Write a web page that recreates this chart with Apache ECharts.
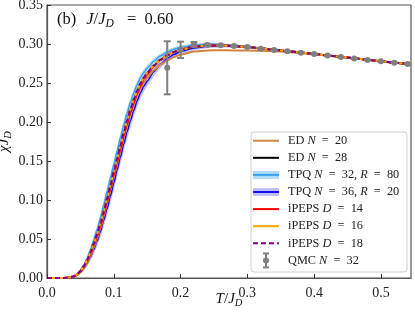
<!DOCTYPE html>
<html><head><meta charset="utf-8">
<script src="https://cdn.jsdelivr.net/npm/echarts@6/dist/echarts.min.js"></script>
<style>html,body{margin:0;padding:0;background:#fff}#c{width:415px;height:315px}</style>
</head><body><div id="c"></div>
<script>
// ---- data ----
const T = [0, 0.02, 0.03, 0.04, 0.045, 0.05, 0.055, 0.06, 0.065, 0.07, 0.075, 0.08, 0.085, 0.09, 0.095, 0.10, 0.105, 0.11, 0.115, 0.12, 0.125, 0.13, 0.135, 0.14, 0.145, 0.15, 0.16, 0.17, 0.18, 0.19, 0.20, 0.22, 0.24, 0.26, 0.28, 0.30, 0.32, 0.34, 0.36, 0.38, 0.40, 0.42, 0.44, 0.46, 0.48, 0.50, 0.52, 0.545];
const ed20 = [0, 0, 0.0002, 0.0015, 0.0035, 0.007, 0.0123, 0.0193, 0.0284, 0.039, 0.0507, 0.064, 0.0794, 0.0958, 0.1128, 0.1298, 0.1468, 0.1638, 0.1804, 0.196, 0.2102, 0.2228, 0.234, 0.2436, 0.251, 0.257, 0.2665, 0.2738, 0.279, 0.2832, 0.2863, 0.2905, 0.2918, 0.292, 0.2918, 0.2916, 0.2912, 0.2908, 0.2897, 0.2882, 0.2866, 0.2849, 0.2831, 0.2813, 0.2795, 0.2777, 0.2759, 0.2736];
const ed28 = [0, 0, 0.0003, 0.0019, 0.0044, 0.0087, 0.0148, 0.0226, 0.0324, 0.0438, 0.0562, 0.070, 0.0854, 0.1018, 0.1188, 0.1358, 0.1528, 0.1698, 0.1864, 0.202, 0.2162, 0.2288, 0.240, 0.2496, 0.257, 0.263, 0.2725, 0.2798, 0.2855, 0.2897, 0.2928, 0.2965, 0.298, 0.2982, 0.2975, 0.2962, 0.2945, 0.2927, 0.2909, 0.2891, 0.2873, 0.2854, 0.2835, 0.2816, 0.2797, 0.2778, 0.2760, 0.2737];
const tpq32 = [0, 0, 0.0004, 0.0023, 0.0052, 0.0099, 0.0166, 0.0251, 0.036, 0.0488, 0.0622, 0.077, 0.0939, 0.1108, 0.1283, 0.1455, 0.1628, 0.1798, 0.1964, 0.2117, 0.2252, 0.2373, 0.248, 0.2568, 0.2636, 0.269, 0.278, 0.2848, 0.2895, 0.2932, 0.2958, 0.2987, 0.2997, 0.2994, 0.2983, 0.2967, 0.2948, 0.2927, 0.2909, 0.2891, 0.2873, 0.2854, 0.2835, 0.2816, 0.2797, 0.2778, 0.2760, 0.2737];
const tpq32err = [0, 0, 0.0002, 0.0006, 0.001, 0.0015, 0.002, 0.003, 0.004, 0.0045, 0.005, 0.0055, 0.006, 0.006, 0.006, 0.006, 0.006, 0.006, 0.006, 0.006, 0.0055, 0.005, 0.005, 0.0045, 0.004, 0.004, 0.0035, 0.003, 0.003, 0.0025, 0.0025, 0.002, 0.002, 0.0015, 0.0015, 0.001, 0.001, 0.0008, 0.0006, 0.0005, 0.0005, 0.0004, 0.0004, 0.0003, 0.0003, 0.0003, 0.0003, 0.0003];
const tpq36 = [0, 0, 0.0003, 0.0017, 0.0039, 0.0075, 0.0124, 0.0186, 0.0268, 0.0366, 0.0474, 0.0596, 0.0742, 0.089, 0.1052, 0.1214, 0.1384, 0.1554, 0.172, 0.1876, 0.2018, 0.2152, 0.2272, 0.2376, 0.2458, 0.2526, 0.2645, 0.2742, 0.2815, 0.2865, 0.2904, 0.2949, 0.297, 0.2975, 0.2971, 0.296, 0.2945, 0.2927, 0.2909, 0.2891, 0.2873, 0.2854, 0.2835, 0.2816, 0.2797, 0.2778, 0.2760, 0.2737];
const tpq36err = [0, 0, 0.0002, 0.0006, 0.001, 0.002, 0.003, 0.004, 0.005, 0.006, 0.007, 0.008, 0.008, 0.009, 0.009, 0.009, 0.009, 0.009, 0.009, 0.009, 0.0085, 0.008, 0.008, 0.0075, 0.007, 0.0065, 0.006, 0.005, 0.0045, 0.004, 0.0035, 0.003, 0.0025, 0.002, 0.002, 0.0015, 0.0012, 0.001, 0.0008, 0.0006, 0.0005, 0.0005, 0.0004, 0.0004, 0.0004, 0.0003, 0.0003, 0.0003];
const peps14 = [0, 0, 0.0003, 0.0018, 0.0042, 0.0083, 0.0141, 0.0216, 0.0309, 0.0418, 0.0537, 0.067, 0.0824, 0.0978, 0.1148, 0.1318, 0.1488, 0.1658, 0.1824, 0.198, 0.2122, 0.2248, 0.237, 0.2466, 0.255, 0.261, 0.2715, 0.2798, 0.2855, 0.2897, 0.2928, 0.2965, 0.298, 0.2982, 0.2975, 0.2962, 0.2945, 0.2927, 0.2909, 0.2891, 0.2873, 0.2854, 0.2835, 0.2816, 0.2797, 0.2778, 0.2760, 0.2737];
const peps16 = [0, 0, 0.0003, 0.0019, 0.0044, 0.0087, 0.0148, 0.0226, 0.0324, 0.0438, 0.0562, 0.070, 0.0854, 0.1018, 0.1188, 0.1358, 0.1528, 0.1698, 0.1864, 0.202, 0.2162, 0.2288, 0.240, 0.2496, 0.257, 0.263, 0.2725, 0.2798, 0.2855, 0.2897, 0.2928, 0.2965, 0.298, 0.2982, 0.2975, 0.2962, 0.2945, 0.2927, 0.2909, 0.2891, 0.2873, 0.2854, 0.2835, 0.2816, 0.2797, 0.2778, 0.2760, 0.2737];
const peps18 = [0, 0, 0.0003, 0.0019, 0.0044, 0.0087, 0.0148, 0.0226, 0.0324, 0.0438, 0.0562, 0.070, 0.0854, 0.1018, 0.1188, 0.1358, 0.1528, 0.1698, 0.1864, 0.202, 0.2162, 0.2288, 0.240, 0.2496, 0.257, 0.263, 0.2725, 0.2798, 0.2855, 0.2897, 0.2928, 0.2965, 0.298, 0.2982, 0.2975, 0.2962, 0.2945, 0.2927, 0.2909, 0.2891, 0.2873, 0.2854, 0.2835, 0.2816, 0.2797, 0.2778, 0.2760, 0.2737];
const qmcT = [0.18, 0.20, 0.22, 0.24, 0.26, 0.28, 0.30, 0.32, 0.34, 0.36, 0.38, 0.40, 0.42, 0.44, 0.46, 0.48, 0.50, 0.52, 0.54];
const qmcChi = [0.2695, 0.2925, 0.2996, 0.2987, 0.2983, 0.2974, 0.2962, 0.2938, 0.2923, 0.2906, 0.2889, 0.2872, 0.2852, 0.2833, 0.2813, 0.2795, 0.2778, 0.2760, 0.2744];
const qmcErr = [0.034, 0.0105, 0.003, 0.0015, 0.001, 0.001, 0.0008, 0.0008, 0.0006, 0.0006, 0.0005, 0.0005, 0.0005, 0.0004, 0.0004, 0.0004, 0.0004, 0.0004, 0.0004];
const xTicks = [0.0, 0.1, 0.2, 0.3, 0.4, 0.5];
const yTicks = [0.00, 0.05, 0.10, 0.15, 0.20, 0.25, 0.30, 0.35];
const EQ = '\u2002=\u2002';
const legendLabels = [
  '{r|ED }{i|N}{r|' + EQ + '20}',
  '{r|ED }{i|N}{r|' + EQ + '28}',
  '{r|TPQ }{i|N}{r|' + EQ + '32, }{i|R}{r|' + EQ + '80}',
  '{r|TPQ }{i|N}{r|' + EQ + '36, }{i|R}{r|' + EQ + '20}',
  '{r|iPEPS }{i|D}{r|' + EQ + '14}',
  '{r|iPEPS }{i|D}{r|' + EQ + '16}',
  '{r|iPEPS }{i|D}{r|' + EQ + '18}',
  '{r|QMC }{i|N}{r|' + EQ + '32}'
];
const titleText = '{r|(b)}{j|J}{r|/}{i|J}{s|D}{r|' + EQ + '0.60}';

// ---- styling ----
const SERIF = '"Liberation Serif", "DejaVu Serif", serif';
const C = {
  ed20: '#d2843f', ed28: '#000000', tpq32: '#3aa0f5', tpq32band: 'rgba(110,190,255,0.55)',
  tpq36: '#1010f0', tpq36band: 'rgba(90,90,255,0.38)', p14: '#ff0000', p16: '#ffa500', p18: '#800080', qmc: '#808080'
};
const pairs = (ys) => T.map((t, i) => [t, ys[i]]);

function band(lo, hi, color, z) {
  return {
    type: 'custom', z: z, silent: true, clip: true,
    data: [[0, 0]], encode: {x: 0, y: 1},
    renderItem: function (params, api) {
      const pts = [];
      for (let i = 0; i < T.length; i++) pts.push(api.coord([T[i], hi[i]]));
      for (let i = T.length - 1; i >= 0; i--) pts.push(api.coord([T[i], lo[i]]));
      return {type: 'polygon', shape: {points: pts}, style: {fill: color}};
    }
  };
}
function line(ys, color, width, z, dash) {
  return {
    type: 'line', data: pairs(ys), showSymbol: false, symbol: 'none', z: z, clip: true,
    smooth: 0.25, smoothMonotone: 'x', silent: true,
    lineStyle: {color: color, width: width, type: dash || 'solid'}
  };
}
const lo32 = tpq32.map((v, i) => v - tpq32err[i]), hi32 = tpq32.map((v, i) => v + tpq32err[i]);
const lo36 = tpq36.map((v, i) => v - tpq36err[i]), hi36 = tpq36.map((v, i) => v + tpq36err[i]);

const qmcData = qmcT.map((t, i) => [t, qmcChi[i], qmcErr[i]]);
const qmcSeries = {
  type: 'custom', z: 20, silent: true, clip: false,
  data: qmcData, encode: {x: 0, y: 1},
  renderItem: function (params, api) {
    const t = api.value(0), c = api.value(1), e = api.value(2);
    const p = api.coord([t, c]), a = api.coord([t, c + e]), b = api.coord([t, c - e]);
    const st = {stroke: C.qmc, lineWidth: 2};
    return {type: 'group', children: [
      {type: 'line', shape: {x1: p[0], y1: a[1], x2: p[0], y2: b[1]}, style: st},
      {type: 'line', shape: {x1: p[0] - 3.5, y1: a[1], x2: p[0] + 3.5, y2: a[1]}, style: st},
      {type: 'line', shape: {x1: p[0] - 3.5, y1: b[1], x2: p[0] + 3.5, y2: b[1]}, style: st},
      {type: 'circle', shape: {cx: p[0], cy: p[1], r: 3}, style: {fill: C.qmc}}
    ]};
  }
};

// ---- legend (graphic) ----
const LX = 251, LY = 132, LW = 156, LH = 140, ROW0 = 140.7, DY = 17.1;
const LF = 12.3;
const richLeg = {
  r: {fontFamily: SERIF, fontSize: LF, fill: '#222'},
  i: {fontFamily: SERIF, fontSize: LF, fontStyle: 'italic', fill: '#222'}
};
const legItems = [
  {kind: 'line', color: C.ed20},
  {kind: 'line', color: C.ed28},
  {kind: 'band', color: C.tpq32, band: C.tpq32band},
  {kind: 'band', color: C.tpq36, band: C.tpq36band},
  {kind: 'line', color: C.p14},
  {kind: 'line', color: C.p16},
  {kind: 'dash', color: C.p18},
  {kind: 'err', color: C.qmc}
];
const g = [{type: 'rect', shape: {x: LX, y: LY, width: LW, height: LH, r: 3}, style: {fill: 'rgba(255,255,255,0.85)', stroke: '#d0d0d0', lineWidth: 1}, z: 50}];
legItems.forEach((it, k) => {
  const y = ROW0 + k * DY, x1 = 253, x2 = 279;
  if (it.kind === 'band') g.push({type: 'rect', shape: {x: x1, y: y - 4, width: x2 - x1, height: 8}, style: {fill: it.band}, z: 51});
  if (it.kind === 'err') {
    const xm = (x1 + x2) / 2, st = {stroke: it.color, lineWidth: 2};
    g.push({type: 'line', shape: {x1: xm, y1: y - 7, x2: xm, y2: y + 7}, style: st, z: 51});
    g.push({type: 'line', shape: {x1: xm - 3, y1: y - 7, x2: xm + 3, y2: y - 7}, style: st, z: 51});
    g.push({type: 'line', shape: {x1: xm - 3, y1: y + 7, x2: xm + 3, y2: y + 7}, style: st, z: 51});
    g.push({type: 'circle', shape: {cx: xm, cy: y, r: 3}, style: {fill: it.color}, z: 51});
  } else {
    g.push({type: 'line', shape: {x1: x1, y1: y, x2: x2, y2: y}, style: {stroke: it.color, lineWidth: 2, lineDash: it.kind === 'dash' ? [5, 3] : null}, z: 51});
  }
  g.push({type: 'text', x: 288, y: y, style: {text: legendLabels[k], rich: richLeg, verticalAlign: 'middle', textVerticalAlign: 'middle'}, z: 51});
});
// title inside axes
const TF = 16.5;
g.push({type: 'text', x: 57, y: 11, z: 51, style: {
  text: titleText,
  rich: {
    r: {fontFamily: SERIF, fontSize: TF, fill: '#111', lineHeight: TF, verticalAlign: 'top'},
    j: {fontFamily: SERIF, fontSize: TF, fontStyle: 'italic', fill: '#111', lineHeight: TF, verticalAlign: 'top', padding: [0, 0, 0, 10]},
    i: {fontFamily: SERIF, fontSize: TF, fontStyle: 'italic', fill: '#111', lineHeight: TF, verticalAlign: 'top'},
    s: {fontFamily: SERIF, fontSize: 11.5, fontStyle: 'italic', fill: '#111', lineHeight: 11.5, padding: [7, 5, 0, 0], verticalAlign: 'top'}
  }
}});

const axisRich = {
  r: {fontFamily: SERIF, fontSize: 15, color: '#111', lineHeight: 15, verticalAlign: 'top'},
  i: {fontFamily: SERIF, fontSize: 15, fontStyle: 'italic', color: '#111', lineHeight: 15, verticalAlign: 'top'},
  g: {fontFamily: SERIF, fontSize: 15, fontStyle: 'italic', color: '#111', lineHeight: 15, verticalAlign: 'top'},
  s: {fontFamily: SERIF, fontSize: 10.5, fontStyle: 'italic', color: '#111', lineHeight: 10.5, padding: [6, 0, 0, 0], verticalAlign: 'top'}
};

const chart = echarts.init(document.getElementById('c'), null, {renderer: 'canvas'});
chart.setOption({
  animation: false,
  backgroundColor: '#fff',
  grid: {left: 47, top: 5, right: 4, bottom: 37, containLabel: false, outerBoundsMode: 'none',
    show: true, borderColor: '#555', borderWidth: 1.2, backgroundColor: 'transparent'},
  xAxis: {
    type: 'value', min: 0, max: 0.545, interval: 0.1,
    name: '{i|T}{r|/}{i|J}{s|D}', nameLocation: 'middle', nameGap: 14, nameMoveOverlap: false,
    nameTextStyle: {rich: axisRich},
    axisLine: {show: true, lineStyle: {color: '#555', width: 1.2}},
    axisTick: {show: true, inside: true, length: 4, lineStyle: {color: '#333'}},
    splitLine: {show: false},
    axisLabel: {showMaxLabel: false, margin: 8, fontFamily: SERIF, fontSize: 14, color: '#222',
      formatter: v => { const k = xTicks.findIndex(t => Math.abs(t - v) < 1e-6); return k >= 0 ? xTicks[k].toFixed(1) : ''; }}
  },
  yAxis: {
    type: 'value', min: 0, max: 0.35, interval: 0.05,
    name: '{g|χ}{i|J}{s|D}', nameLocation: 'middle', nameGap: 35, nameRotate: 90, nameMoveOverlap: false,
    nameTextStyle: {rich: axisRich},
    axisLine: {show: true, lineStyle: {color: '#555', width: 1.2}},
    axisTick: {show: true, inside: true, length: 4, lineStyle: {color: '#333'}},
    splitLine: {show: false},
    axisLabel: {margin: 4, fontFamily: SERIF, fontSize: 14, color: '#222',
      formatter: v => { const k = yTicks.findIndex(t => Math.abs(t - v) < 1e-6); return k >= 0 ? yTicks[k].toFixed(2) : ''; }}
  },
  series: [
    band(lo36, hi36, C.tpq36band, 1),
    band(lo32, hi32, C.tpq32band, 2),
    line(tpq32, C.tpq32, 1.5, 3),
    line(tpq36, C.tpq36, 1.5, 4),
    line(ed20, C.ed20, 2, 5),
    line(ed28, C.ed28, 2, 6),
    line(peps14, C.p14, 2, 7),
    line(peps16, C.p16, 2, 8),
    line(peps18, C.p18, 2, 9, [5, 3]),
    qmcSeries
  ],
  graphic: g
});
</script></body></html>
